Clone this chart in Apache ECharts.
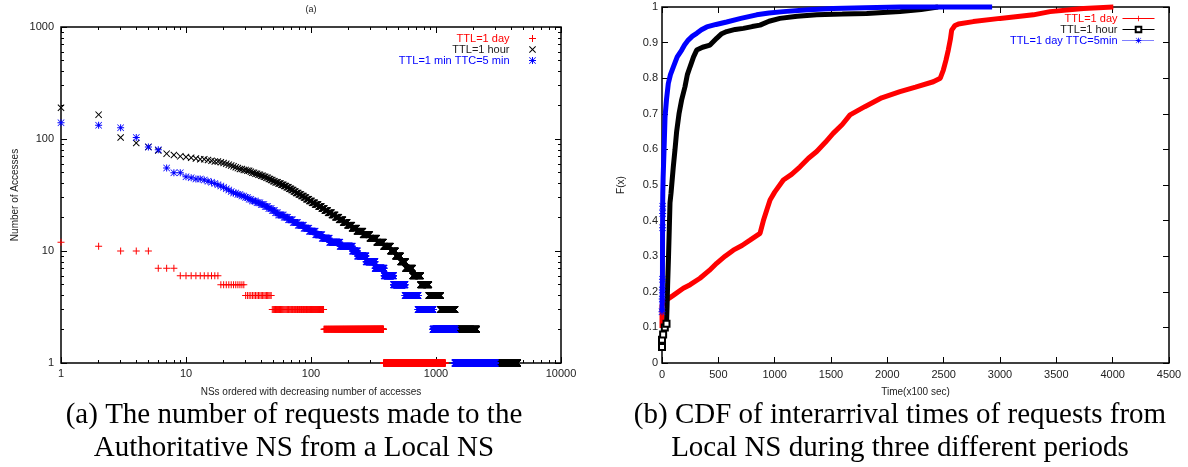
<!DOCTYPE html>
<html>
<head>
<meta charset="utf-8">
<script src="https://cdn.jsdelivr.net/npm/echarts@6/dist/echarts.min.js"></script>
<style>
  html, body { margin: 0; padding: 0; background: #fff; }
  #chart { width: 1188px; height: 467px; }
</style>
</head>
<body>
<div id="chart"></div>
<script>
// (a) accesses per NS, stored as steps: level value and last rank holding it
const redLevels = [12, 11, 10, 7, 6, 5, 4, 3, 2, 1];
const redLastRank = [1, 2, 5, 8, 18, 29, 48, 126, 380, 1180];

const blackLevels = [190, 165, 103, 92, 85, 79, 74, 72, 70,
  69, 68, 67, 66, 65, 64, 63, 62, 61, 60, 59, 58, 57, 56, 55,
  54, 53, 52, 51, 50, 49, 48, 47, 46, 45, 44, 43, 42, 41, 40, 39, 38, 37, 36, 35, 34, 33, 32, 31, 30,
  29, 28, 27, 26, 25, 24, 23, 22, 21, 20, 19, 18, 17, 16, 15, 14, 13, 12, 11, 10, 9, 8, 7, 6, 5, 4, 3, 2, 1];
const blackLastRank = [1, 2, 3, 4, 5, 6, 7, 8, 9,
  10, 11, 12, 14, 15, 16, 18, 19, 20, 21, 22, 23, 24, 25, 26,
  28, 30, 32, 33, 35, 37, 39, 41, 43, 45, 47, 49, 51, 54, 57, 60, 63, 66, 69, 72, 75, 79, 83, 87, 91,
  96, 101, 107, 114, 121, 128, 136, 146, 156, 167, 180, 195, 212, 232, 260, 295, 335, 380, 432, 474, 520, 570, 649, 752, 876, 1087, 1419, 2109, 4487];

const blueLevels = [140, 133, 126, 103, 85, 80, 55, 50,
  46, 45, 44, 43, 42, 41, 40, 39, 38, 37, 36, 35, 34, 33, 32, 31, 30, 29, 28, 27,
  26, 25, 24, 23, 22, 21, 20, 19, 18, 17, 16, 15, 14, 13, 12, 11, 10, 9, 8, 7, 6, 5, 4, 3, 2, 1];
const blueLastRank = [1, 2, 3, 4, 5, 6, 7, 9,
  10, 11, 13, 14, 15, 16, 17, 18, 19, 20, 21, 22, 23, 25, 27, 29, 31, 33, 36, 39,
  42, 45, 48, 51, 54, 60, 65, 71, 78, 87, 96, 108, 122, 140, 170, 214, 235, 275, 325, 384, 457, 565, 718, 946, 1419, 2965];

const rankTicks = [1, 10, 100, 1000, 10000];
const accessTicks = [1, 10, 100, 1000];

// (b) CDF of interarrival times
const dayTime = [0, 0, 5, 41, 100, 189, 250, 337, 420, 485, 560, 633, 710, 781, 870, 900, 930, 959, 1000, 1077, 1150, 1225, 1300, 1373, 1450, 1519, 1600, 1669, 1800, 1950, 2112, 2250, 2408, 2470, 2497, 2520, 2541, 2560, 2571, 2600, 2630, 2763, 3000, 3296, 3444, 3740, 4006];
const dayCdf = [0.098, 0.163, 0.168, 0.177, 0.19, 0.21, 0.22, 0.238, 0.26, 0.28, 0.30, 0.317, 0.33, 0.345, 0.364, 0.40, 0.43, 0.458, 0.48, 0.514, 0.53, 0.551, 0.575, 0.594, 0.62, 0.645, 0.67, 0.697, 0.72, 0.745, 0.762, 0.775, 0.79, 0.80, 0.823, 0.85, 0.879, 0.91, 0.935, 0.948, 0.952, 0.959, 0.968, 0.978, 0.987, 0.996, 1.0];

const hourTime = [0, 0, 10, 25, 40, 45, 50, 58, 65, 71, 80, 100, 115, 130, 151, 175, 204, 225, 249, 280, 308, 360, 426, 485, 530, 574, 650, 722, 800, 870, 950, 1047, 1200, 1373, 1600, 1817, 2000, 2112, 2300, 2450];
const hourCdf = [0.045, 0.065, 0.08, 0.10, 0.11, 0.16, 0.22, 0.30, 0.38, 0.45, 0.477, 0.55, 0.598, 0.65, 0.70, 0.74, 0.776, 0.81, 0.832, 0.86, 0.879, 0.887, 0.893, 0.912, 0.925, 0.931, 0.937, 0.94, 0.945, 0.949, 0.96, 0.968, 0.974, 0.978, 0.98, 0.982, 0.985, 0.987, 0.993, 1.0];

const ttcTime = [0, 2, 3, 4, 5, 6, 6, 7, 10, 18, 27, 40, 56, 75, 101, 135, 175, 200, 233, 270, 308, 350, 397, 480, 574, 700, 840, 950, 1077, 1300, 1519, 1800, 2112, 2500, 2930];
const ttcCdf = [0.144, 0.18, 0.205, 0.235, 0.38, 0.42, 0.44, 0.477, 0.52, 0.598, 0.691, 0.74, 0.785, 0.81, 0.832, 0.86, 0.879, 0.893, 0.907, 0.918, 0.926, 0.936, 0.944, 0.951, 0.958, 0.968, 0.978, 0.983, 0.987, 0.992, 0.996, 0.998, 1.0, 1.0, 1.0];

const sans = 'Liberation Sans';
const serif = 'Liberation Serif';

const plusPath = 'path://M3,0H4V3H7V4H4V7H3V4H0V3H3Z';
const crossPath = 'path://M0,0.7L0.7,0L3.5,2.8L6.3,0L7,0.7L4.2,3.5L7,6.3L6.3,7L3.5,4.2L0.7,7L0,6.3L2.8,3.5Z';
const starPath = 'path://M3,0H4V7H3Z M0,3H7V4H0Z M0,0.5L0.5,0L7,6.5L6.5,7Z M6.5,0L7,0.5L0.5,7L0,6.5Z';

function expandSteps(levels, lastRank) {
  let pts = [];
  let r = 1;
  levels.forEach((v, i) => {
    for (; r <= lastRank[i]; r++) pts.push([r, v]);
  });
  return pts;
}

function zip(xs, ys) {
  return xs.map((x, i) => [x, ys[i]]);
}

// minor tick positions 2..9 per decade
function minorTicks(maxExp) {
  let out = [];
  for (let e = 0; e < maxExp; e++) {
    for (let m = 2; m <= 9; m++) out.push(m * Math.pow(10, e));
  }
  return out;
}

let chart = echarts.init(document.getElementById('chart'));

const tickStyle = { color: '#000', width: 1 };
const labelStyle = { color: '#222', fontSize: 11, fontFamily: sans, formatter: (v) => String(+v.toFixed(6)) };

function tickAxis(extra) {
  return Object.assign({
    axisLine: { show: false, onZero: false },
    axisLabel: { show: false },
    splitLine: { show: false },
    axisTick: { show: true, inside: true, length: 6, lineStyle: tickStyle },
  }, extra);
}

function legendItem(name, color, right, top, opts) {
  return Object.assign({
    data: [{ name: name, textStyle: { color: color } }],
    formatter: (n) => n.slice(2),
    right: right,
    top: top,
    align: 'right',
    orient: 'horizontal',
    padding: 0,
    itemGap: 0,
    selectedMode: false,
    textStyle: { fontSize: 11, fontFamily: sans },
  }, opts);
}

let option = {
  animation: false,
  backgroundColor: '#fff',
  title: [
    { text: '(a)', left: 311, top: 5, textAlign: 'center', padding: 0,
      textStyle: { fontSize: 9, fontWeight: 'normal', fontFamily: sans, color: '#222' } },
    { text: '(a) The number of requests made to the\nAuthoritative NS from a Local NS',
      left: 294, top: 399, textAlign: 'center', padding: 0,
      textStyle: { fontFamily: serif, fontSize: 29, fontWeight: 'normal', color: '#000', lineHeight: 33 } },
    { text: '(b) CDF of interarrival times of requests from\nLocal NS during three different periods',
      left: 900, top: 399, textAlign: 'center', padding: 0,
      textStyle: { fontFamily: serif, fontSize: 29, fontWeight: 'normal', color: '#000', lineHeight: 33 } },
  ],
  legend: [
    legendItem('a:TTL=1 day', '#ff0000', 652, 33, { itemWidth: 36, itemHeight: 7 }),
    legendItem('a:TTL=1 hour', '#222', 652, 44, { itemWidth: 36, itemHeight: 7 }),
    legendItem('a:TTL=1 min TTC=5 min', '#0000ff', 652, 55, { itemWidth: 36, itemHeight: 7 }),
    legendItem('b:TTL=1 day', '#ff0000', 33, 13, { itemWidth: 32, itemHeight: 7, lineStyle: { width: 1 } }),
    legendItem('b:TTL=1 hour', '#222', 33, 24, { itemWidth: 32, itemHeight: 7, lineStyle: { width: 1 } }),
    legendItem('b:TTL=1 day TTC=5min', '#0000ff', 33, 35, { itemWidth: 32, itemHeight: 7, lineStyle: { width: 1, type: 'dotted' } }),
  ],
  grid: [
    { left: 61, top: 27, width: 500, height: 336, show: true, borderColor: '#000', borderWidth: 1.5, backgroundColor: 'transparent' },
    { left: 662, top: 7, width: 507, height: 356, show: true, borderColor: '#000', borderWidth: 1.5, backgroundColor: 'transparent' },
  ],
  xAxis: [
    {
      gridIndex: 0, type: 'log', logBase: 10, min: 1, max: 10000, position: 'bottom',
      axisLine: { show: false, onZero: false },
      axisTick: { show: true, inside: true, length: 6, lineStyle: tickStyle, customValues: rankTicks },
      axisLabel: Object.assign({ margin: 5, customValues: rankTicks }, labelStyle),
      splitLine: { show: false },
      name: 'NSs ordered with decreasing number of accesses',
      nameLocation: 'middle', nameGap: 24,
      nameTextStyle: { fontSize: 10, fontFamily: sans, color: '#222' },
    },
    tickAxis({ gridIndex: 0, type: 'log', min: 1, max: 10000, position: 'bottom',
      axisTick: { show: true, inside: true, length: 3, lineStyle: tickStyle, customValues: minorTicks(4) } }),
    tickAxis({ gridIndex: 0, type: 'log', min: 1, max: 10000, position: 'top',
      axisTick: { show: true, inside: true, length: 6, lineStyle: tickStyle, customValues: rankTicks } }),
    tickAxis({ gridIndex: 0, type: 'log', min: 1, max: 10000, position: 'top',
      axisTick: { show: true, inside: true, length: 3, lineStyle: tickStyle, customValues: minorTicks(4) } }),
    {
      gridIndex: 1, type: 'value', min: 0, max: 4500, interval: 500, position: 'bottom',
      axisLine: { show: false, onZero: false },
      axisTick: { show: true, inside: true, length: 6, lineStyle: tickStyle },
      axisLabel: Object.assign({ margin: 6 }, labelStyle),
      splitLine: { show: false },
      name: 'Time(x100 sec)',
      nameLocation: 'middle', nameGap: 24,
      nameTextStyle: { fontSize: 10, fontFamily: sans, color: '#222' },
    },
    tickAxis({ gridIndex: 1, type: 'value', min: 0, max: 4500, interval: 500, position: 'top' }),
  ],
  yAxis: [
    {
      gridIndex: 0, type: 'log', logBase: 10, min: 1, max: 1000, position: 'left',
      axisLine: { show: false, onZero: false },
      axisTick: { show: true, inside: true, length: 6, lineStyle: tickStyle, customValues: accessTicks },
      axisLabel: Object.assign({ margin: 7, customValues: accessTicks }, labelStyle),
      splitLine: { show: false },
      name: 'Number of Accesses',
      nameLocation: 'middle', nameGap: 41,
      nameTextStyle: { fontSize: 10, fontFamily: sans, color: '#222' },
    },
    tickAxis({ gridIndex: 0, type: 'log', min: 1, max: 1000, position: 'left',
      axisTick: { show: true, inside: true, length: 3, lineStyle: tickStyle, customValues: minorTicks(3) } }),
    tickAxis({ gridIndex: 0, type: 'log', min: 1, max: 1000, position: 'right',
      axisTick: { show: true, inside: true, length: 6, lineStyle: tickStyle, customValues: accessTicks } }),
    tickAxis({ gridIndex: 0, type: 'log', min: 1, max: 1000, position: 'right',
      axisTick: { show: true, inside: true, length: 3, lineStyle: tickStyle, customValues: minorTicks(3) } }),
    {
      gridIndex: 1, type: 'value', min: 0, max: 1, interval: 0.1, position: 'left',
      axisLine: { show: false, onZero: false },
      axisTick: { show: true, inside: true, length: 6, lineStyle: tickStyle },
      axisLabel: Object.assign({ margin: 4 }, labelStyle),
      splitLine: { show: false },
      name: 'F(x)',
      nameLocation: 'middle', nameGap: 36,
      nameTextStyle: { fontSize: 10, fontFamily: sans, color: '#222' },
    },
    tickAxis({ gridIndex: 1, type: 'value', min: 0, max: 1, interval: 0.1, position: 'right' }),
  ],
  series: [
    {
      name: 'a:TTL=1 day', type: 'scatter', xAxisIndex: 0, yAxisIndex: 0,
      data: expandSteps(redLevels, redLastRank),
      symbol: plusPath, symbolSize: 7, itemStyle: { color: '#ff0000', opacity: 1 },
      progressive: 0, large: false,
    },
    {
      name: 'a:TTL=1 hour', type: 'scatter', xAxisIndex: 0, yAxisIndex: 0,
      data: expandSteps(blackLevels, blackLastRank),
      symbol: crossPath, symbolSize: 7, itemStyle: { color: '#000', opacity: 1 },
      progressive: 0, large: false,
    },
    {
      name: 'a:TTL=1 min TTC=5 min', type: 'scatter', xAxisIndex: 0, yAxisIndex: 0,
      data: expandSteps(blueLevels, blueLastRank),
      symbol: starPath, symbolSize: 7, itemStyle: { color: '#0000ff', opacity: 1 },
      progressive: 0, large: false,
    },
    {
      name: 'b:TTL=1 day', type: 'line', xAxisIndex: 4, yAxisIndex: 4,
      data: zip(dayTime, dayCdf), clip: false,
      symbol: plusPath, symbolSize: 0, showSymbol: true,
      lineStyle: { color: '#ff0000', width: 5 }, itemStyle: { color: '#ff0000' },
    },
    {
      name: 'b:TTL=1 hour', type: 'line', xAxisIndex: 4, yAxisIndex: 4,
      data: zip(hourTime, hourCdf), clip: false,
      symbol: 'emptyRect', showSymbol: true,
      symbolSize: (v) => (v[1] <= 0.11 ? 6 : 0),
      lineStyle: { color: '#000', width: 5 }, itemStyle: { color: '#000', borderWidth: 1 },
    },
    {
      name: 'b:TTL=1 day TTC=5min', type: 'line', xAxisIndex: 4, yAxisIndex: 4,
      data: zip(ttcTime, ttcCdf), clip: false,
      symbol: starPath, showSymbol: true,
      symbolSize: (v) => (v[1] < 0.45 ? 7 : 0),
      lineStyle: { color: '#0000ff', width: 5 }, itemStyle: { color: '#0000ff' },
    },
  ],
};

chart.setOption(option);
</script>
</body>
</html>
